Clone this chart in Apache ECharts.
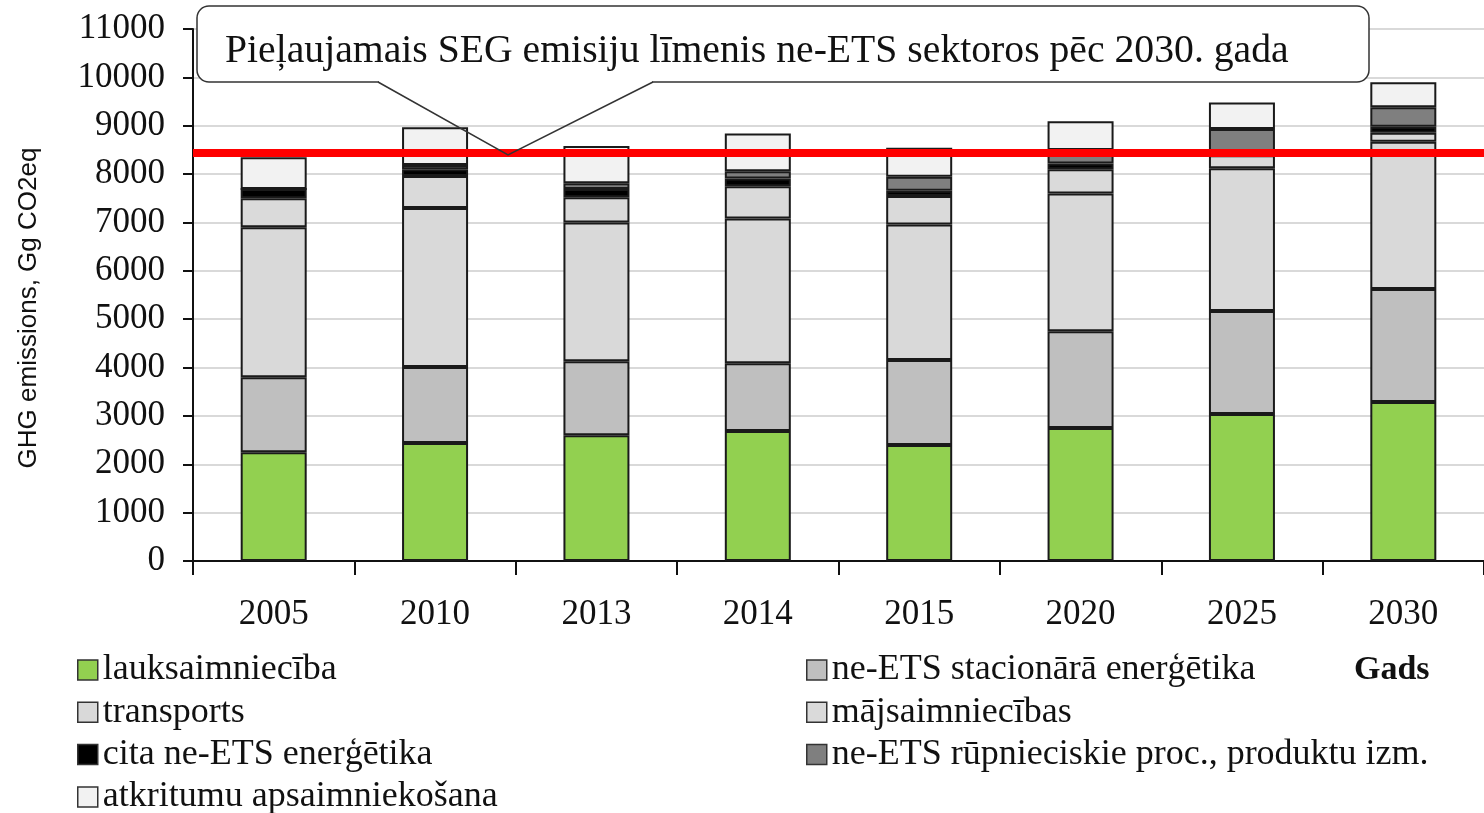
<!DOCTYPE html>
<html>
<head>
<meta charset="utf-8">
<title>GHG emissions</title>
<script src="https://cdn.jsdelivr.net/npm/echarts@6/dist/echarts.min.js"></script>
<style>
    html, body { margin: 0; padding: 0; background: #fff; }
    #main { width: 1484px; height: 813px; }
</style>
</head>
<body>
<div id="main"></div>
<script>
// dati
const years = ['2005', '2010', '2013', '2014', '2015', '2020', '2025', '2030'];
const lauksaimnieciba = [2250, 2440, 2600, 2690, 2400, 2750, 3040, 3290];
const stacionara = [1550, 1570, 1530, 1400, 1755, 2000, 2130, 2335];
const transports = [3100, 3290, 2870, 2990, 2805, 2850, 2950, 3045];
const majsaimniecibas = [600, 660, 520, 670, 585, 500, 270, 185];
const citaEnergetika = [190, 140, 170, 160, 110, 120, 40, 125];
const rupnieciskie = [0, 90, 120, 150, 290, 280, 500, 400];
const atkritumi = [660, 780, 770, 780, 600, 590, 550, 520];
const limenis = 8440; // pieļaujamais līmenis

const serif = 'Liberation Serif';
const sans = 'Liberation Sans';

(function () {
    let myChart = echarts.init(document.getElementById('main'), null, { renderer: 'canvas' });

    let bar = (name, data, color) => ({
        name: name,
        type: 'bar',
        stack: 'kopa',
        barWidth: 66,
        data: data,
        itemStyle: { color: color, borderColor: '#1a1a1a', borderWidth: 2 }
    });

    let series = [
        bar('lauksaimniecība', lauksaimnieciba, '#92d050'),
        bar('ne-ETS stacionārā enerģētika', stacionara, '#bfbfbf'),
        bar('transports', transports, '#d9d9d9'),
        bar('mājsaimniecības', majsaimniecibas, '#dadada'),
        bar('cita ne-ETS enerģētika', citaEnergetika, '#000000'),
        bar('ne-ETS rūpnieciskie proc., produktu izm.', rupnieciskie, '#7f7f7f'),
        bar('atkritumu apsaimniekošana', atkritumi, '#f2f2f2')
    ];
    // sarkanā līnija
    series[6].markLine = {
        silent: true,
        symbol: 'none',
        z: 5,
        label: { show: false },
        lineStyle: { color: '#ff0000', width: 8, type: 'solid' },
        data: [{ yAxis: limenis }]
    };

    let legendBase = {
        orient: 'vertical',
        top: 647,
        height: 180,
        itemWidth: 20,
        itemHeight: 20,
        itemGap: 6.3,
        selectedMode: false,
        icon: 'rect',
        itemStyle: { borderColor: '#333', borderWidth: 1.5 },
        textStyle: { fontFamily: serif, fontSize: 36, lineHeight: 36, color: '#111' }
    };

    myChart.setOption({
        animation: false,
        backgroundColor: '#fff',
        title: {
            text: 'Gads',
            left: 1349,
            top: 648,
            textStyle: { fontFamily: serif, fontSize: 34, fontWeight: 'bold', color: '#111' }
        },
        legend: [
            Object.assign({}, legendBase, {
                left: 72,
                data: ['lauksaimniecība', 'transports', 'cita ne-ETS enerģētika', 'atkritumu apsaimniekošana']
            }),
            Object.assign({}, legendBase, {
                left: 801,
                data: ['ne-ETS stacionārā enerģētika', 'mājsaimniecības', 'ne-ETS rūpnieciskie proc., produktu izm.']
            })
        ],
        grid: { left: 193, top: 29, bottom: 252, width: 1296 },
        xAxis: {
            type: 'category',
            data: years,
            axisLine: { lineStyle: { color: '#111', width: 2 } },
            axisTick: { show: true, interval: 0, alignWithLabel: false, length: 14, lineStyle: { color: '#111', width: 2 } },
            axisLabel: { fontFamily: serif, fontSize: 35, color: '#111', margin: 36 }
        },
        yAxis: {
            type: 'value',
            min: 0,
            max: 11000,
            interval: 1000,
            name: 'GHG emissions, Gg CO2eq',
            nameLocation: 'middle',
            nameGap: 151,
            nameTextStyle: { fontFamily: sans, fontSize: 26, color: '#111', padding: [0, 26, 0, 0] },
            axisLine: { show: true, lineStyle: { color: '#111', width: 2 } },
            axisTick: { show: true, length: 10, lineStyle: { color: '#111', width: 2 } },
            axisLabel: { fontFamily: serif, fontSize: 35, color: '#111', margin: 28, formatter: (v) => String(v) },
            splitLine: { lineStyle: { color: '#d9d9d9', width: 2 } }
        },
        graphic: [
            {
                type: 'rect', z: 100,
                shape: { x: 197, y: 6, width: 1172, height: 76, r: 12 },
                style: { fill: '#fff', stroke: '#333', lineWidth: 1.5 }
            },
            {
                type: 'line', z: 101,
                shape: { x1: 379, y1: 82, x2: 652, y2: 82 },
                style: { stroke: '#fff', lineWidth: 3 }
            },
            {
                type: 'polyline', z: 102,
                shape: { points: [[378, 82], [508, 155], [653, 82]] },
                style: { stroke: '#333', lineWidth: 1.5, fill: null }
            },
            {
                type: 'text', z: 103,
                x: 225, y: 52,
                style: {
                    text: 'Pieļaujamais SEG emisiju līmenis ne-ETS sektoros pēc 2030. gada',
                    fontFamily: serif, fontSize: 39.7, fill: '#111', verticalAlign: 'middle'
                }
            }
        ],
        series: series
    });
})();
</script>
</body>
</html>
